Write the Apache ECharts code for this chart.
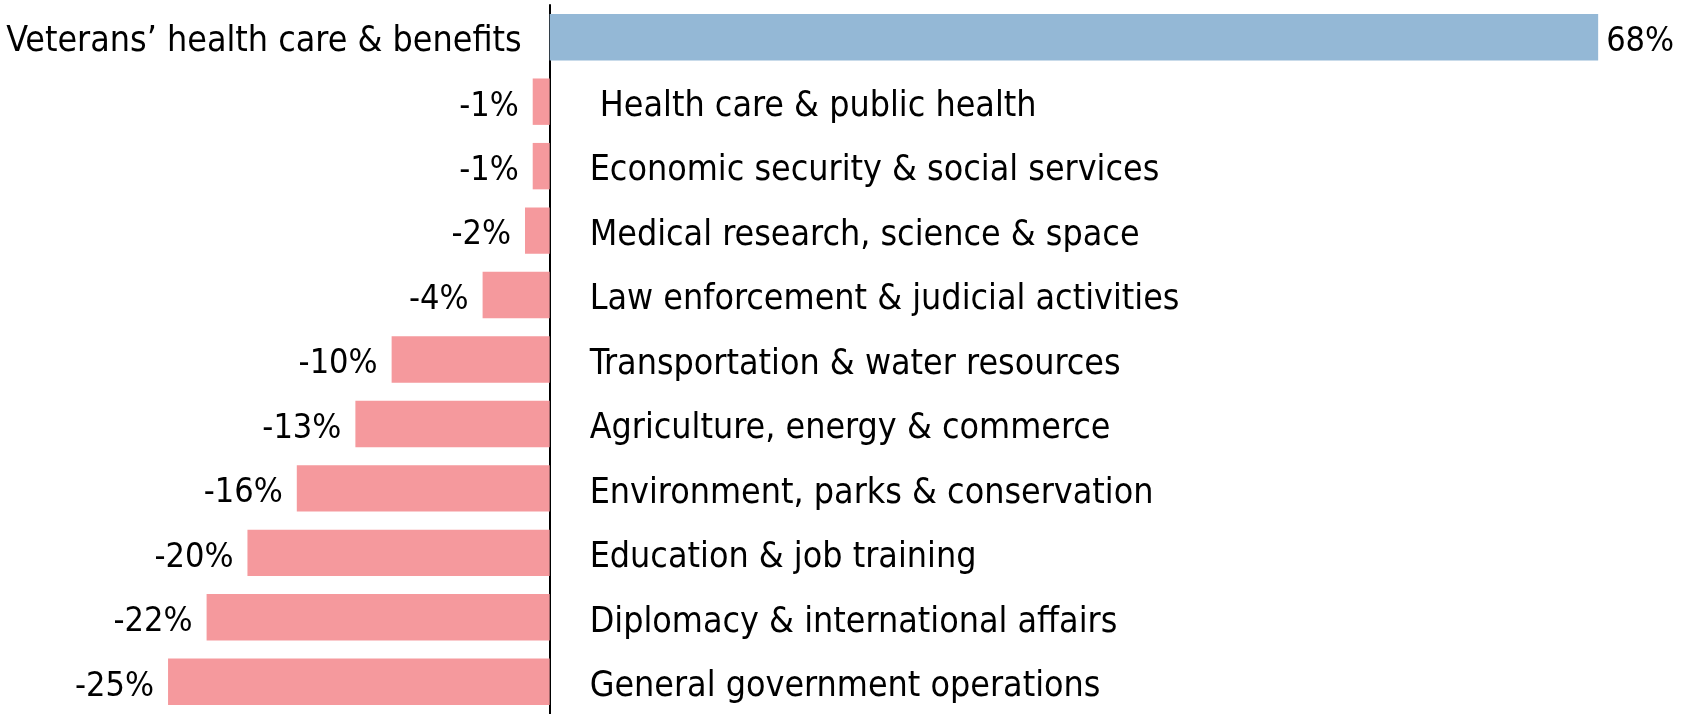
<!DOCTYPE html>
<html>
<head>
<meta charset="utf-8">
<script src="https://cdn.jsdelivr.net/npm/echarts@6/dist/echarts.min.js"></script>
<style>
  html, body { margin: 0; padding: 0; background: #fff; }
  #chart { width: 1691px; height: 714px; }
</style>
</head>
<body>
<div id="chart"></div>
<script>
const categories = [
  'Veterans\u2019 health care & benefits',
  ' Health care & public health',
  'Economic security & social services',
  'Medical research, science & space',
  'Law enforcement & judicial activities',
  'Transportation & water resources',
  'Agriculture, energy & commerce',
  'Environment, parks & conservation',
  'Education & job training',
  'Diplomacy & international affairs',
  'General government operations'
];
const changes = [68, -1.1, -1.1, -1.6, -4.35, -10.25, -12.6, -16.4, -19.6, -22.25, -24.75];
const changeLabels = ['68%', '-1%', '-1%', '-2%', '-4%', '-10%', '-13%', '-16%', '-20%', '-22%', '-25%'];

const FONT = '"DejaVu Sans Condensed", "Liberation Sans Narrow", Roboto, sans-serif';
const BLUE = '#94b8d6';
const PINK = '#f5999d';

const chart = echarts.init(document.getElementById('chart'));

const option = {
  animation: false,
  backgroundColor: '#fff',
  grid: { left: 10, top: 5, width: 1619, height: 711 },
  xAxis: {
    type: 'value',
    min: -35,
    max: 70,
    show: false
  },
  yAxis: {
    type: 'category',
    data: categories,
    inverse: true,
    axisLine: { show: true, onZero: true, lineStyle: { color: '#000', width: 2 } },
    axisTick: { show: false },
    axisLabel: { show: false }
  },
  series: [
    {
      // bars with value labels
      type: 'bar',
      barCategoryGap: '28%',
      data: changes.map((v, i) => ({
        value: v,
        itemStyle: { color: v >= 0 ? BLUE : PINK },
        label: {
          show: true,
          position: v >= 0 ? 'right' : 'left',
          distance: v >= 0 ? 8 : 14,
          offset: [0, 5],
          formatter: () => changeLabels[i],
          color: '#000',
          fontFamily: FONT,
          fontSize: 34
        }
      }))
    },
    {
      // invisible zero bars carrying the category names
      type: 'bar',
      barGap: '-100%',
      barCategoryGap: '28%',
      silent: true,
      itemStyle: { color: 'rgba(0,0,0,0)' },
      data: changes.map((v, i) => ({
        value: 0,
        label: {
          show: true,
          position: v >= 0 ? 'left' : 'right',
          distance: v >= 0 ? 28 : 40,
          offset: [0, 5],
          formatter: () => categories[i],
          color: '#000',
          fontFamily: FONT,
          fontSize: 35.5
        }
      }))
    }
  ]
};

chart.setOption(option);
</script>
</body>
</html>
